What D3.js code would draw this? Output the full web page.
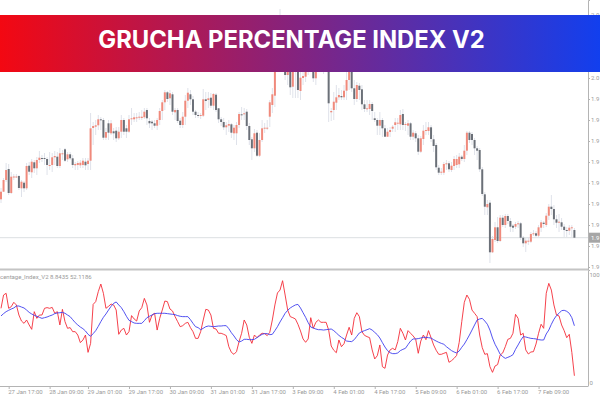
<!DOCTYPE html>
<html>
<head>
<meta charset="utf-8">
<script src="https://cdn.jsdelivr.net/npm/d3@7"></script>
<style>
  html, body { margin: 0; padding: 0; background: #fff; overflow: hidden; }
  svg { display: block; }
  .axis text { font-family: Roboto, sans-serif; font-size: 6px; fill: #9a9a9a; }
  .axis line, .axis path { stroke: #b4b4b4; }
</style>
</head>
<body>
<div id="chart"></div>
<script>
const title = "GRUCHA PERCENTAGE INDEX V2";
const indicatorLabel = "centage_Index_V2 8.8435 52.1186";

// candles, one entry per hour bar
const opens = [
1.98787,1.98863,1.98980,1.99090,1.98850,1.99010,1.99010,1.99020,1.98897,1.98953,
1.98897,1.99123,1.99057,1.99157,1.99097,1.99180,1.99200,1.99200,1.99190,1.99125,
1.99130,1.99207,1.99213,1.99120,1.99240,1.99287,1.99187,1.99237,1.99197,1.99127,
1.99130,1.99127,1.99130,1.99163,1.99140,1.99173,1.99500,1.99513,1.99527,1.99587,
1.99580,1.99403,1.99547,1.99447,1.99467,1.99473,1.99397,1.99463,1.99580,1.99497,
1.99463,1.99587,1.99587,1.99600,1.99607,1.99600,1.99607,1.99680,1.99570,1.99563,
1.99547,1.99523,1.99580,1.99670,1.99757,1.99857,1.99797,1.99837,1.99657,1.99680,
1.99573,1.99530,1.99613,1.99773,1.99837,1.99787,1.99663,1.99630,1.99625,1.99623,
1.99787,1.99780,1.99803,1.99723,1.99833,1.99697,1.99587,1.99560,1.99507,1.99523,
1.99537,1.99447,1.99447,1.99530,1.99637,1.99637,1.99663,1.99520,1.99387,1.99297,
1.99453,1.99223,1.99380,1.99500,1.99500,1.99613,1.99730,1.99823,2.00120,2.00180,
2.00380,2.00300,2.00030,2.00280,1.99913,2.00130,2.00180,1.99870,2.00000,2.00013,
2.00110,2.00180,2.00180,1.99997,2.00130,2.00170,2.00180,2.00170,2.00160,1.99657,
1.99680,1.99753,1.99807,1.99820,1.99807,1.99873,1.99980,2.00080,1.99897,1.99790,
1.99923,1.99887,1.99737,1.99687,1.99690,1.99740,1.99597,1.99580,1.99523,1.99580,
1.99497,1.99413,1.99460,1.99493,1.99530,1.99547,1.99537,1.99640,1.99535,1.99523,
1.99547,1.99413,1.99447,1.99397,1.99263,1.99390,1.99477,1.99470,1.99507,1.99387,
1.99330,1.99103,1.99053,1.99053,1.99143,1.99147,1.99080,1.99120,1.99130,1.99137,
1.99213,1.99190,1.99273,1.99453,1.99440,1.99380,1.99297,1.99280,1.99087,1.98837,
1.98707,1.98753,1.98257,1.98380,1.98507,1.98370,1.98603,1.98530,1.98620,1.98570,
1.98523,1.98513,1.98540,1.98547,1.98403,1.98347,1.98370,1.98363,1.98440,1.98447,
1.98423,1.98503,1.98553,1.98530,1.98623,1.98713,1.98690,1.98587,1.98553,1.98557,
1.98513,1.98480,1.98473,1.98497,1.98480];

const closes = [
1.98863,1.98980,1.99080,1.98850,1.99013,1.99015,1.99015,1.98900,1.98963,1.98897,
1.99120,1.99063,1.99163,1.99097,1.99180,1.99203,1.99190,1.99190,1.99130,1.99130,
1.99207,1.99220,1.99120,1.99247,1.99247,1.99173,1.99237,1.99197,1.99130,1.99140,
1.99150,1.99153,1.99173,1.99127,1.99173,1.99497,1.99520,1.99527,1.99587,1.99580,
1.99403,1.99460,1.99453,1.99547,1.99447,1.99397,1.99463,1.99580,1.99463,1.99463,
1.99587,1.99597,1.99607,1.99607,1.99613,1.99613,1.99663,1.99597,1.99547,1.99547,
1.99523,1.99580,1.99670,1.99757,1.99857,1.99790,1.99847,1.99663,1.99680,1.99570,
1.99530,1.99613,1.99773,1.99853,1.99787,1.99663,1.99630,1.99625,1.99630,1.99787,
1.99770,1.99797,1.99723,1.99840,1.99680,1.99587,1.99560,1.99507,1.99527,1.99540,
1.99453,1.99503,1.99530,1.99640,1.99627,1.99647,1.99520,1.99380,1.99297,1.99447,
1.99223,1.99380,1.99497,1.99503,1.99503,1.99757,1.99837,2.00120,2.00180,2.00380,
2.00180,2.00030,2.00280,1.99907,2.00230,2.00230,1.99880,2.00003,2.00020,2.00120,
2.00120,2.00130,1.99997,2.00130,2.00180,2.00180,2.00160,2.00160,1.99747,1.99670,
1.99763,1.99807,1.99830,1.99807,1.99873,1.99980,2.00080,1.99897,1.99790,1.99930,
1.99880,1.99737,1.99690,1.99697,1.99740,1.99670,1.99580,1.99523,1.99580,1.99497,
1.99413,1.99463,1.99480,1.99513,1.99557,1.99553,1.99630,1.99530,1.99540,1.99547,
1.99413,1.99453,1.99397,1.99263,1.99397,1.99473,1.99480,1.99507,1.99390,1.99320,
1.99107,1.99053,1.99063,1.99140,1.99147,1.99087,1.99123,1.99190,1.99190,1.99213,
1.99190,1.99273,1.99453,1.99380,1.99380,1.99297,1.99273,1.99087,1.98840,1.98713,
1.98740,1.98257,1.98390,1.98507,1.98370,1.98603,1.98530,1.98620,1.98570,1.98513,
1.98503,1.98540,1.98547,1.98403,1.98347,1.98373,1.98373,1.98440,1.98447,1.98423,
1.98507,1.98557,1.98540,1.98623,1.98713,1.98690,1.98587,1.98553,1.98563,1.98513,
1.98480,1.98477,1.98503,1.98507,1.98403];

const highs = [
1.9890,1.9900,1.9915,1.9914,1.9906,1.9904,1.9904,1.9903,1.9898,1.9897,
1.9915,1.9916,1.9919,1.9918,1.9921,1.9927,1.9923,1.9925,1.9921,1.9926,
1.9925,1.9927,1.9926,1.9930,1.9928,1.9930,1.9926,1.9926,1.9923,1.9916,
1.9917,1.9918,1.9920,1.9920,1.9920,1.9965,1.9956,1.9958,1.9963,1.9961,
1.9960,1.9950,1.9958,1.9958,1.9950,1.9951,1.9951,1.9963,1.9960,1.9953,
1.9963,1.9970,1.9965,1.9965,1.9966,1.9968,1.9970,1.9970,1.9960,1.9958,
1.9958,1.9960,1.9970,1.9978,1.9988,1.9987,1.9988,1.9986,1.9970,1.9970,
1.9960,1.9966,1.9983,1.9990,1.9988,1.9982,1.9968,1.9966,1.9965,1.9989,
1.9986,1.9986,1.9985,1.9985,1.9985,1.9970,1.9961,1.9960,1.9956,1.9958,
1.9955,1.9953,1.9956,1.9966,1.9971,1.9970,1.9969,1.9955,1.9941,1.9949,
1.9948,1.9945,1.9958,1.9955,1.9958,1.9978,1.9990,2.0012,2.0028,2.0069,
2.0043,2.0033,2.0033,2.0030,2.0028,2.0028,2.0023,2.0008,2.0008,2.0018,
2.0018,2.0023,2.0023,2.0018,2.0023,2.0023,2.0023,2.0020,2.0018,1.9970,
1.9986,1.9993,1.9990,1.9988,1.9993,2.0006,2.0013,2.0013,1.9998,1.9996,
1.9995,1.9993,1.9978,1.9978,1.9978,1.9976,1.9966,1.9960,1.9966,1.9960,
1.9953,1.9950,1.9951,1.9953,1.9960,1.9960,1.9968,1.9969,1.9956,1.9958,
1.9956,1.9948,1.9947,1.9943,1.9942,1.9953,1.9956,1.9956,1.9953,1.9943,
1.9935,1.9913,1.9910,1.9916,1.9918,1.9917,1.9916,1.9922,1.9923,1.9925,
1.9923,1.9933,1.9947,1.9947,1.9946,1.9940,1.9932,1.9930,1.9911,1.9886,
1.9878,1.9878,1.9842,1.9856,1.9861,1.9863,1.9863,1.9864,1.9864,1.9860,
1.9854,1.9856,1.9857,1.9856,1.9842,1.9840,1.9841,1.9846,1.9848,1.9847,
1.9853,1.9858,1.9857,1.9865,1.9874,1.9883,1.9873,1.9863,1.9864,1.9860,
1.9854,1.9851,1.9853,1.9853,1.9850];

const lows = [
1.9875,1.9886,1.9896,1.9883,1.9884,1.9898,1.9900,1.9888,1.9881,1.9886,
1.9888,1.9903,1.9900,1.9905,1.9903,1.9915,1.9916,1.9913,1.9903,1.9908,
1.9906,1.9913,1.9910,1.9910,1.9918,1.9916,1.9916,1.9918,1.9910,1.9908,
1.9908,1.9910,1.9910,1.9908,1.9908,1.9908,1.9933,1.9943,1.9948,1.9948,
1.9938,1.9938,1.9938,1.9943,1.9938,1.9936,1.9938,1.9940,1.9943,1.9940,
1.9945,1.9953,1.9956,1.9956,1.9958,1.9958,1.9959,1.9953,1.9950,1.9948,
1.9950,1.9948,1.9953,1.9958,1.9968,1.9976,1.9973,1.9963,1.9958,1.9955,
1.9950,1.9950,1.9953,1.9970,1.9973,1.9963,1.9960,1.9960,1.9959,1.9961,
1.9968,1.9970,1.9970,1.9968,1.9966,1.9955,1.9952,1.9948,1.9943,1.9946,
1.9940,1.9938,1.9933,1.9950,1.9958,1.9958,1.9948,1.9933,1.9918,1.9926,
1.9921,1.9921,1.9936,1.9945,1.9948,1.9951,1.9965,1.9971,2.0008,2.0016,
2.0013,1.9998,1.9993,1.9983,1.9980,1.9980,1.9980,1.9978,1.9993,1.9996,
2.0003,2.0006,1.9996,1.9993,2.0006,2.0008,2.0004,2.0006,1.9956,1.9957,
1.9958,1.9968,1.9978,1.9978,1.9978,1.9978,1.9988,1.9986,1.9973,1.9976,
1.9978,1.9968,1.9966,1.9966,1.9963,1.9958,1.9956,1.9943,1.9943,1.9941,
1.9941,1.9941,1.9941,1.9946,1.9946,1.9948,1.9948,1.9948,1.9947,1.9943,
1.9938,1.9938,1.9936,1.9923,1.9925,1.9933,1.9943,1.9943,1.9936,1.9926,
1.9908,1.9903,1.9903,1.9903,1.9908,1.9906,1.9906,1.9908,1.9910,1.9910,
1.9917,1.9916,1.9923,1.9935,1.9933,1.9923,1.9918,1.9906,1.9882,1.9863,
1.9863,1.9815,1.9825,1.9836,1.9835,1.9836,1.9851,1.9850,1.9854,1.9846,
1.9846,1.9849,1.9850,1.9838,1.9831,1.9826,1.9833,1.9835,1.9842,1.9840,
1.9840,1.9846,1.9850,1.9851,1.9858,1.9863,1.9853,1.9850,1.9846,1.9848,
1.9841,1.9841,1.9843,1.9841,1.9840];

// indicator lines
const fastLine = [
67.2,78.7,80.2,67.2,68.6,72.4,70.1,61.4,56.2,54.2,
57.1,52.8,49.0,64.3,58.5,61.4,61.4,67.2,67.8,67.2,
68.0,62.9,64.3,52.8,66.3,55.7,49.9,50.5,47.0,47.0,
44.1,37.5,39.8,44.1,29.1,36.9,70.6,73.0,81.6,88.2,
80.2,67.2,68.9,70.9,70.1,65.7,44.7,48.4,49.9,44.1,
47.0,60.9,58.0,56.2,64.9,67.8,75.8,70.1,55.1,61.4,
62.9,48.4,58.5,65.7,73.5,73.0,66.6,64.9,60.0,55.7,
51.3,52.2,54.2,55.1,50.5,47.0,41.2,41.2,47.0,57.1,
66.3,65.7,61.4,49.9,49.3,45.6,45.6,44.7,43.6,34.0,
29.1,27.4,29.7,38.4,45.6,57.1,52.8,42.1,36.9,44.1,
41.8,44.1,45.6,45.3,43.6,46.4,57.1,70.1,80.5,83.0,
91.1,78.7,65.7,60.0,59.1,58.0,53.4,47.6,40.7,37.8,
40.7,59.1,49.9,55.1,57.1,55.1,55.1,55.1,48.4,34.6,
30.9,28.8,39.8,34.0,36.6,44.1,50.8,44.1,58.5,63.4,
60.0,47.0,43.8,42.7,41.8,31.2,23.4,26.2,35.5,16.7,
15.3,26.8,31.2,32.6,31.2,38.4,49.9,45.6,39.8,47.9,
45.6,43.3,40.4,28.3,38.9,44.1,40.1,47.9,41.8,35.5,
30.9,27.4,27.4,28.3,29.1,20.5,21.9,23.9,26.5,37.8,
55.7,72.4,78.7,75.0,65.7,62.9,60.0,44.1,33.2,27.4,
28.0,16.7,11.8,17.3,18.5,26.8,28.6,34.0,40.4,41.2,
45.6,62.0,58.5,44.1,45.6,31.2,27.7,29.4,29.7,36.3,
45.6,53.4,49.9,80.2,88.8,83.0,70.1,61.4,60.6,52.8,
47.9,41.8,44.7,29.1,8.8435];

const slowLine = [
60.6,62.6,64.3,65.5,66.6,67.5,69.2,69.2,68.3,67.5,
65.7,63.7,62.3,61.1,60.3,59.4,58.5,59.1,59.7,60.6,
61.4,62.6,63.2,63.4,63.7,62.9,61.4,60.0,57.4,54.8,
52.8,51.0,49.6,47.6,44.7,43.0,45.3,47.9,51.6,55.7,
59.4,62.3,65.7,68.9,71.5,72.7,70.1,67.8,64.3,60.3,
56.8,55.7,54.5,54.2,54.2,54.2,56.5,59.1,60.3,61.4,
62.6,62.9,62.9,62.9,62.9,62.6,62.3,62.0,61.7,60.9,
60.3,60.0,60.0,60.0,57.4,54.2,51.3,50.5,48.7,49.9,
51.3,51.9,51.6,51.3,51.6,51.9,51.9,52.2,52.2,49.6,
46.1,43.3,40.1,38.1,38.9,40.4,40.4,40.1,40.1,40.4,
41.8,43.3,44.7,45.3,45.3,44.4,44.7,47.9,51.3,55.4,
59.1,62.9,65.5,67.5,68.9,70.1,70.6,67.5,63.4,59.4,
54.8,51.0,50.2,49.3,48.7,48.7,48.4,48.7,49.0,49.3,
47.9,45.9,43.8,42.1,40.7,38.9,38.6,38.4,40.1,43.0,
45.9,47.0,47.9,48.7,49.6,48.4,46.4,44.4,41.5,37.5,
33.7,30.6,28.8,28.0,28.0,28.6,30.6,31.7,32.6,35.8,
38.9,40.7,40.7,41.0,41.5,42.1,42.1,41.8,41.5,40.1,
38.9,37.8,36.9,36.1,34.0,32.3,30.6,29.4,28.6,30.3,
33.5,36.3,40.1,44.1,48.4,52.8,57.1,58.0,58.5,56.2,
53.4,48.4,41.5,36.1,32.0,27.4,25.4,23.9,24.8,25.7,
27.1,31.7,35.5,39.5,42.7,42.4,41.8,41.2,41.0,40.7,
40.1,39.8,39.8,45.0,48.4,53.4,57.7,60.9,62.9,65.2,
65.5,64.6,62.9,59.1,52.1186];

// axes
const priceTicks = [2.0063,2.0042,2.0021,2.0000,1.9979,1.9958,1.9937,1.9916,1.9895,1.9874,1.9853,1.9832,1.9811];
const indicatorTicks = [0, 100];
const timeTickBars = [3,19,34,50,66,82,98,114,130,146,162,178,194,210];
const timeTickLabels = ["27 Jan 17:00","28 Jan 09:00","29 Jan 01:00","29 Jan 17:00","30 Jan 09:00","31 Jan 01:00","31 Jan 17:00","3 Feb 09:00","4 Feb 01:00","4 Feb 17:00","5 Feb 09:00","6 Feb 01:00","6 Feb 17:00","7 Feb 09:00"];

const width = 600;
const height = 400;
const axisX = 588;
const mainBottom = 270;
const subBottom = 386;

const svg = d3.select("#chart").append("svg")
  .attr("width", width)
  .attr("height", height);

const x = d3.scaleLinear().domain([0, closes.length - 1]).range([1, 574.4]);
const y = d3.scaleLinear().domain([1.9808, 2.0078]).range([mainBottom, 0]);
const yIndicator = d3.scaleLinear().domain([0, 100]).range([subBottom, 270.4]);

const last = closes[closes.length - 1];

// current price line goes under the candles
svg.append("line")
  .attr("x1", 0).attr("x2", axisX)
  .attr("y1", y(last)).attr("y2", y(last))
  .attr("stroke", "#dcdfe2");

const candles = svg.append("g");

// wicks
candles.selectAll(".wick")
  .data(d3.range(closes.length))
  .enter().append("line")
  .attr("x1", (i) => x(i))
  .attr("x2", (i) => x(i))
  .attr("y1", (i) => y(highs[i]))
  .attr("y2", (i) => y(lows[i]))
  .attr("stroke", "#dfe2ea")
  .attr("stroke-width", 1);

// bodies
candles.selectAll(".body")
  .data(d3.range(closes.length))
  .enter().append("rect")
  .attr("x", (i) => x(i) - 1)
  .attr("width", 2)
  .attr("y", (i) => y(Math.max(opens[i], closes[i])))
  .attr("height", (i) => Math.max(1, Math.abs(y(opens[i]) - y(closes[i]))))
  .attr("fill", (i) => closes[i] >= opens[i] ? "#f08a7c" : "#6b7078");

// price axis, only the first three characters fit at the edge
const priceAxis = d3.axisRight(y)
  .tickValues(priceTicks)
  .tickSize(2)
  .tickPadding(1)
  .tickFormat((d) => d.toFixed(4).slice(0, 3));
svg.append("g")
  .attr("class", "axis")
  .attr("transform", `translate(${axisX},0)`)
  .call(priceAxis);

svg.append("rect")
  .attr("x", axisX + 1).attr("y", y(last) - 5)
  .attr("width", width - axisX - 1).attr("height", 10)
  .attr("fill", "#a6a6a6");
svg.append("text")
  .attr("x", axisX + 3).attr("y", y(last) + 2.2)
  .attr("font-family", "Roboto, sans-serif").attr("font-size", 6)
  .attr("fill", "#fff")
  .text(last.toFixed(4).slice(0, 3));

// panel separator
svg.append("line")
  .attr("x1", 0).attr("x2", axisX)
  .attr("y1", mainBottom - 0.5).attr("y2", mainBottom - 0.5)
  .attr("stroke", "#c4c4c4").attr("stroke-width", 2);

// indicator window
const lineGen = d3.line()
  .x((d, i) => x(i))
  .y((d) => yIndicator(d));

svg.append("path")
  .datum(fastLine)
  .attr("d", lineGen)
  .attr("fill", "none")
  .attr("stroke", "#f42c38")
  .attr("stroke-width", 0.9);

svg.append("path")
  .datum(slowLine)
  .attr("d", lineGen)
  .attr("fill", "none")
  .attr("stroke", "#4040ee")
  .attr("stroke-width", 0.9);

svg.append("text")
  .attr("x", 0).attr("y", 279)
  .attr("font-family", "Roboto, sans-serif").attr("font-size", 6)
  .attr("fill", "#9a9a9a")
  .text(indicatorLabel);

const indicatorAxis = d3.axisRight(yIndicator)
  .tickValues(indicatorTicks)
  .tickSize(0)
  .tickPadding(1.5);
const indicatorG = svg.append("g")
  .attr("class", "axis")
  .attr("transform", `translate(${axisX},0)`)
  .call(indicatorAxis);
// MT4 keeps 0 and 100 inside the window
indicatorG.selectAll("text")
  .attr("dy", (d) => d === 100 ? "1.1em" : "-0.25em");

// time axis
const timeAxis = d3.axisBottom(x)
  .tickValues(timeTickBars)
  .tickSize(3)
  .tickPadding(1)
  .tickFormat((d, i) => timeTickLabels[i]);
const timeG = svg.append("g")
  .attr("class", "axis")
  .attr("transform", `translate(0,${subBottom})`)
  .call(timeAxis);
timeG.selectAll("text").attr("text-anchor", "start").attr("dx", "-1");
timeG.select(".domain").attr("d", `M0,0.5H${axisX}`);

// title banner on top of the chart
const gradient = svg.append("defs").append("linearGradient")
  .attr("id", "banner-fill");
gradient.append("stop").attr("offset", "0%").attr("stop-color", "#f30812");
gradient.append("stop").attr("offset", "100%").attr("stop-color", "#123fee");

svg.append("rect")
  .attr("x", 0).attr("y", 15)
  .attr("width", width).attr("height", 57)
  .attr("fill", "url(#banner-fill)");

svg.append("text")
  .attr("x", 291.5).attr("y", 48)
  .attr("text-anchor", "middle")
  .attr("font-family", "Inter, sans-serif")
  .attr("font-weight", 700)
  .attr("font-size", 23.8)
  .attr("fill", "#fff")
  .text(title);
</script>
</body>
</html>
